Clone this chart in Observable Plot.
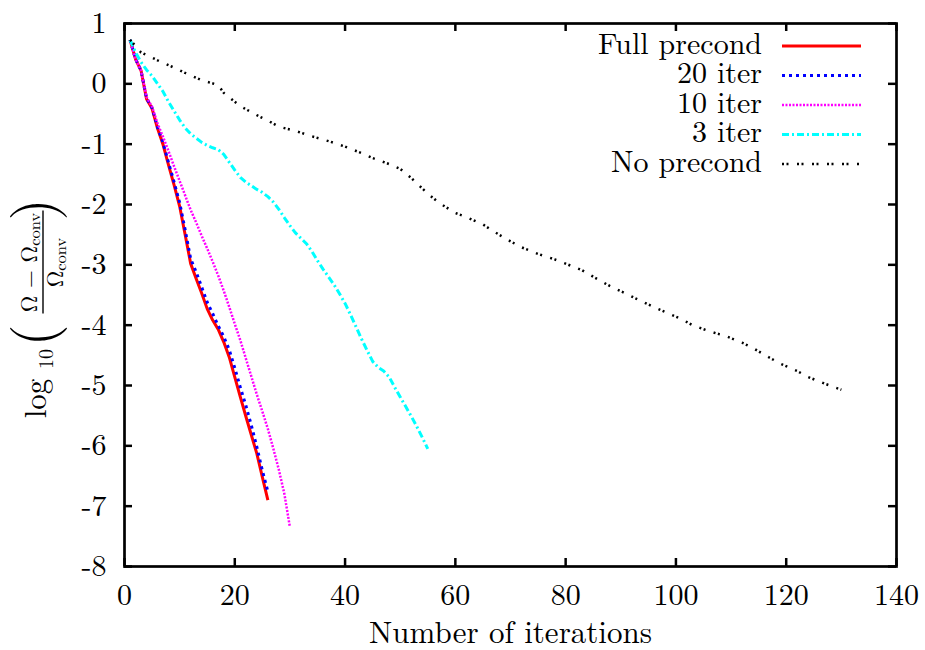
<!DOCTYPE html>
<html><head><meta charset="utf-8">
<script src="https://cdn.jsdelivr.net/npm/d3@7"></script>
<script src="https://cdn.jsdelivr.net/npm/@observablehq/plot@0.6"></script>
<style>html,body{margin:0;padding:0;background:#fff;} svg{display:block}</style>
</head><body><div id="chart"></div>
<script>
// ---- data ----
const xTicks = [0, 20, 40, 60, 80, 100, 120, 140];
const yTicks = [1, 0, -1, -2, -3, -4, -5, -6, -7, -8];
const seriesNames = ["Full precond", "20 iter", "10 iter", "3 iter", "No precond"];
const xLabel = "Number of iterations";

// iterations 1..N
const fullPrecond = [0.73, 0.41, 0.22, -0.25, -0.41, -0.74, -1.01, -1.35, -1.68, -2.03, -2.50, -2.98, -3.23, -3.47, -3.73, -3.92, -4.07, -4.28, -4.53, -4.86, -5.19, -5.51, -5.82, -6.13, -6.52, -6.90];
const iter20 = [0.73, 0.41, 0.22, -0.24, -0.40, -0.72, -0.98, -1.31, -1.63, -1.97, -2.42, -2.90, -3.12, -3.37, -3.62, -3.81, -4.01, -4.19, -4.41, -4.71, -5.03, -5.33, -5.66, -6.02, -6.41, -6.76];
const iter10 = [0.73, 0.41, 0.22, -0.22, -0.38, -0.66, -0.88, -1.12, -1.37, -1.61, -1.85, -2.09, -2.30, -2.52, -2.73, -2.95, -3.18, -3.43, -3.70, -3.98, -4.25, -4.55, -4.85, -5.15, -5.43, -5.72, -6.05, -6.40, -6.80, -7.35];
const iter3 = [0.73, 0.52, 0.36, 0.23, 0.13, 0.00, -0.13, -0.30, -0.45, -0.60, -0.73, -0.83, -0.90, -0.97, -1.02, -1.06, -1.09, -1.17, -1.30, -1.43, -1.55, -1.63, -1.69, -1.75, -1.80, -1.87, -1.96, -2.08, -2.22, -2.35, -2.47, -2.56, -2.65, -2.78, -2.93, -3.07, -3.20, -3.33, -3.48, -3.64, -3.83, -4.03, -4.23, -4.42, -4.60, -4.70, -4.76, -4.86, -5.03, -5.19, -5.35, -5.51, -5.68, -5.86, -6.05];
const noPrecondX = [1, 3, 6, 8, 11, 14, 17, 18, 21, 24, 26, 28, 31, 34, 37, 40, 43, 45, 48, 50, 52, 55, 57, 60, 62, 65, 67, 70, 72, 75, 78, 80, 83, 86, 88, 91, 93, 96, 98, 101, 103, 106, 109, 112, 114, 117, 119, 122, 124, 127, 130];
const noPrecondY = [0.73, 0.52, 0.39, 0.31, 0.18, 0.06, -0.02, -0.15, -0.37, -0.52, -0.61, -0.71, -0.78, -0.87, -0.95, -1.04, -1.15, -1.23, -1.33, -1.41, -1.56, -1.82, -1.97, -2.14, -2.21, -2.33, -2.45, -2.61, -2.71, -2.82, -2.91, -2.98, -3.09, -3.25, -3.35, -3.48, -3.57, -3.70, -3.78, -3.90, -4.00, -4.10, -4.18, -4.29, -4.38, -4.54, -4.64, -4.76, -4.86, -4.97, -5.07];

// ---- styles ----
const FONT = "'Latin Modern Roman', 'Liberation Serif', serif";
const lineStyles = [
  {stroke: "#ff0000", strokeWidth: 3, dash: null},
  {stroke: "#0000ff", strokeWidth: 3, dash: "3,4"},
  {stroke: "#ff00ff", strokeWidth: 2.5, dash: "2,1.5"},
  {stroke: "#00ffff", strokeWidth: 3, dash: "7,3,2,3"},
  {stroke: "#000000", strokeWidth: 2.5, dash: "2,2.5,2,8.5"}
];

const W = 925, H = 650;
const mL = 124, mR = 29, mT = 23, mB = 84;
const innerW = W - mL - mR, innerH = H - mT - mB;

const byIndex = ys => ys.map((y, i) => ({n: i + 1, y}));
const series = [
  byIndex(fullPrecond),
  byIndex(iter20),
  byIndex(iter10),
  byIndex(iter3),
  noPrecondX.map((n, i) => ({n, y: noPrecondY[i]}))
];

const lineMarks = series.map((d, i) => Plot.line(d, {
  x: "n", y: "y",
  stroke: lineStyles[i].stroke,
  strokeWidth: lineStyles[i].strokeWidth,
  strokeDasharray: lineStyles[i].dash,
  strokeLinecap: "butt",
  strokeLinejoin: "round"
}));

const chart = Plot.plot({
  width: W, height: H,
  marginLeft: mL, marginRight: mR, marginTop: mT, marginBottom: mB,
  style: `font-family: ${FONT}; background: #fff; color: #000;`,
  x: {domain: [0, 140], axis: null},
  y: {domain: [-8, 1], axis: null},
  marks: [
    ...lineMarks,
    // inward ticks on all four sides
    Plot.ruleX(xTicks, {x: d => d, insetTop: innerH - 8, stroke: "#000", strokeWidth: 2.5}),
    Plot.ruleX(xTicks, {x: d => d, insetBottom: innerH - 8, stroke: "#000", strokeWidth: 2.5}),
    Plot.ruleY(yTicks, {y: d => d, insetRight: innerW - 8, stroke: "#000", strokeWidth: 2.5}),
    Plot.ruleY(yTicks, {y: d => d, insetLeft: innerW - 8, stroke: "#000", strokeWidth: 2.5}),
    Plot.frame({stroke: "#000", strokeWidth: 2.7}),
    Plot.axisX(xTicks, {anchor: "bottom", tickSize: 0, tickPadding: 17, fontSize: 30, tickFormat: d => String(d), label: null}),
    Plot.axisY(yTicks, {anchor: "left", tickSize: 0, tickPadding: 18, fontSize: 30, tickFormat: d => String(d), label: null}),
    Plot.text([xLabel], {text: d => d, frameAnchor: "bottom", dy: 76, fontSize: 31, fill: "#000"})
  ]
});
document.getElementById("chart").appendChild(chart);

const svg = d3.select(chart);

// y-axis label: log10( (Ω−Ωconv)/Ωconv )
const g = svg.append("g")
  .attr("transform", `translate(0,${mT + innerH / 2}) rotate(-90)`)
  .attr("fill", "#000");
g.append("text").attr("x", -104).attr("y", 46).attr("font-size", 31).text("log");
g.append("text").attr("x", -64.5).attr("y", 53).attr("font-size", 20).text("10");
g.append("text").attr("x", -41).attr("y", 53).attr("font-size", 57).text("(");
const num = g.append("text").attr("x", 32).attr("y", 37).attr("font-size", 23).attr("text-anchor", "middle");
num.append("tspan").text("Ω − Ω");
num.append("tspan").attr("font-size", 16.5).attr("dy", 3).text("conv");
g.append("line").attr("x1", -19).attr("x2", 84).attr("y1", 43).attr("y2", 43)
  .attr("stroke", "#000").attr("stroke-width", 1.4);
const den = g.append("text").attr("x", 32).attr("y", 63).attr("font-size", 23).attr("text-anchor", "middle");
den.append("tspan").text("Ω");
den.append("tspan").attr("font-size", 16.5).attr("dy", 3).text("conv");
g.append("text").attr("x", 85).attr("y", 53).attr("font-size", 57).text(")");

// legend (top right, inside the frame)
const leg = svg.append("g");
seriesNames.forEach((name, i) => {
  const yy = 46 + i * 29.5;
  leg.append("text").attr("x", 762).attr("y", yy).attr("dy", "0.25em")
    .attr("text-anchor", "end").attr("font-size", 30).attr("fill", "#000").text(name);
  const s = lineStyles[i];
  leg.append("line").attr("x1", 782).attr("x2", 861).attr("y1", yy).attr("y2", yy)
    .attr("stroke", s.stroke).attr("stroke-width", s.strokeWidth)
    .attr("stroke-dasharray", s.dash);
});

// force the serif font on every text (inline style wins over any stylesheet)
chart.querySelectorAll("text").forEach(t => { t.style.fontFamily = FONT; });
</script>
</body></html>
